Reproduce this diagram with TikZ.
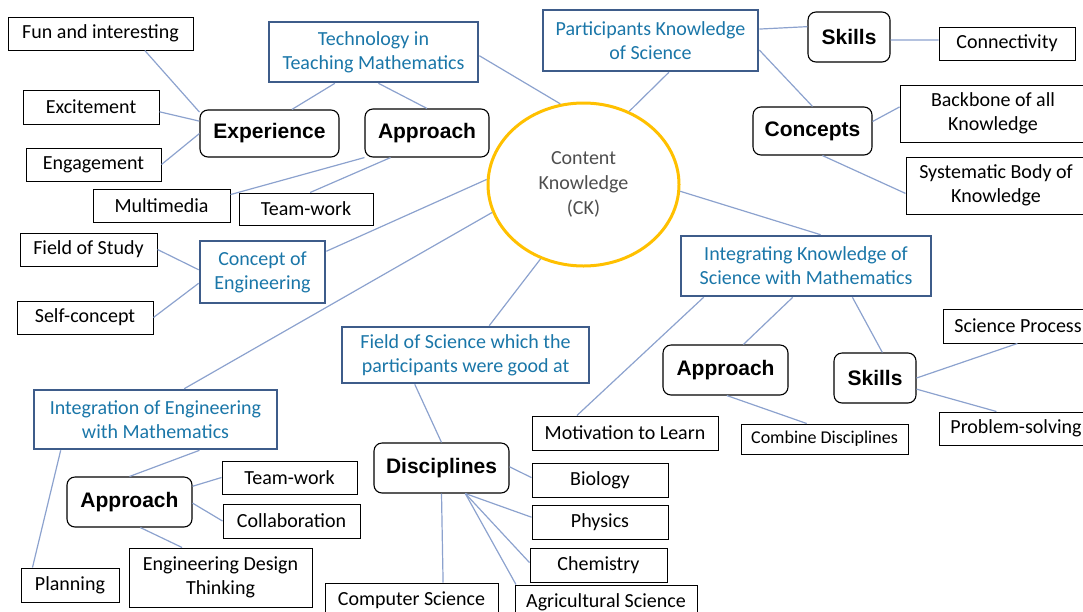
\documentclass[tikz,border=0pt]{standalone}
\usepackage{fontspec}
\setmainfont{Carlito}
\newfontfamily\headsans{Liberation Sans}
\usetikzlibrary{shapes.geometric}
\definecolor{linkblue}{RGB}{140,162,206}
\definecolor{topicborder}{RGB}{62,92,138}
\definecolor{topictext}{RGB}{26,118,168}
\definecolor{ckgold}{RGB}{255,192,0}
\definecolor{cktext}{RGB}{78,78,78}
\tikzset{
    leaf/.style = {draw=black, line width=1pt, rectangle, inner sep=0pt, align=center,
                   font=\fontsize{20}{24}\selectfont},
    head/.style = {draw=black, line width=1.1pt, rectangle, rounded corners=8pt, inner sep=0pt,
                   font=\headsans\bfseries\fontsize{21}{25}\selectfont},
    topic/.style = {draw=topicborder, line width=2.6pt, rectangle, inner sep=0pt, align=center,
                    text=topictext, font=\fontsize{20}{24}\selectfont},
    core/.style = {draw=ckgold, line width=3pt, ellipse, inner sep=0pt, align=center,
                   text=cktext, font=\fontsize{20}{25}\selectfont},
    link/.style = {draw=linkblue, line width=1.2pt}
}

\begin{document}
\begin{tikzpicture}[x=1pt, y=-1pt]
    \useasboundingbox (0,0) rectangle (1083,611);
    \clip (0,0) rectangle (1083,611);
    % Nodos
    \node [core, minimum width=191pt, minimum height=163pt] (ck) at (583.5,184.5) {Content\\Knowledge\\(CK)};

    \node [topic, minimum width=209pt, minimum height=60pt] (tech) at (373.5,52) {Technology in\\Teaching Mathematics};
    \node [head, minimum width=139pt, minimum height=47pt] (exp) at (269.5,133.5) {Experience};
    \node [head, minimum width=124pt, minimum height=48pt] (appT) at (427,133) {Approach};
    \node [leaf, minimum width=185pt, minimum height=33pt] (fun) at (100.5,33.5) {Fun and interesting};
    \node [leaf, minimum width=136pt, minimum height=34pt] (excite) at (91,107) {Excitement};
    \node [leaf, minimum width=135pt, minimum height=33pt] (engage) at (93.5,164.5) {Engagement};
    \node [leaf, minimum width=137pt, minimum height=33pt] (multi) at (161.5,205.5) {Multimedia};
    \node [leaf, minimum width=134pt, minimum height=32pt] (teamT) at (306,209) {Team-work};

    \node [topic, minimum width=215pt, minimum height=61pt] (part) at (650.5,40.5) {Participants Knowledge\\of Science};
    \node [head, minimum width=82pt, minimum height=50pt] (skillT) at (849,37) {Skills};
    \node [leaf, minimum width=136pt, minimum height=33pt] (conn) at (1007,43.5) {Connectivity};
    \node [head, minimum width=119pt, minimum height=48pt] (concepts) at (812.5,131) {Concepts};
    \node [leaf, minimum width=186pt, minimum height=57pt] (backbone) at (993,113.5) {Backbone of all\\Knowledge};
    \node [leaf, minimum width=180pt, minimum height=57pt] (system) at (996,185.5) {Systematic Body of\\Knowledge};

    \node [topic, minimum width=125pt, minimum height=62pt] (conceptE) at (262.5,272) {Concept of\\Engineering};
    \node [leaf, minimum width=137pt, minimum height=33pt] (fstudy) at (88.5,249.5) {Field of Study};
    \node [leaf, minimum width=136pt, minimum height=33pt] (self) at (85,317.5) {Self-concept};

    \node [topic, minimum width=250pt, minimum height=60pt] (integK) at (806,266) {Integrating Knowledge of\\Science with Mathematics};
    \node [head, minimum width=125pt, minimum height=50pt] (appR) at (725.5,370) {Approach};
    \node [head, minimum width=82pt, minimum height=50pt] (skillR) at (875,378) {Skills};
    \node [leaf, minimum width=186pt, minimum height=34pt] (motiv) at (625,433) {Motivation to Learn};
    \node [leaf, minimum width=167pt, minimum height=30pt, font=\fontsize{18}{22}\selectfont] (combine) at (824.5,439) {Combine Disciplines};
    \node [leaf, minimum width=150pt, minimum height=34pt] (sproc) at (1018,326) {Science Process};
    \node [leaf, minimum width=154pt, minimum height=33pt] (prob) at (1016,428.5) {Problem-solving};

    \node [topic, minimum width=247pt, minimum height=56pt] (fsci) at (465.5,355) {Field of Science which the\\participants were good at};
    \node [head, minimum width=135pt, minimum height=50pt] (disc) at (441.5,468) {Disciplines};
    \node [leaf, minimum width=136pt, minimum height=34pt] (bio) at (600,480) {Biology};
    \node [leaf, minimum width=136pt, minimum height=34pt] (phys) at (600,522) {Physics};
    \node [leaf, minimum width=137pt, minimum height=34pt] (chem) at (598.5,565) {Chemistry};
    \node [leaf, minimum width=173pt, minimum height=34pt] (comp) at (411.5,600) {Computer Science};
    \node [leaf, minimum width=182pt, minimum height=34pt] (agri) at (606,602) {Agricultural Science};

    \node [topic, minimum width=243pt, minimum height=59pt] (integE) at (155.5,419.5) {Integration of Engineering\\with Mathematics};
    \node [head, minimum width=125pt, minimum height=50pt] (appL) at (129.5,502) {Approach};
    \node [leaf, minimum width=135pt, minimum height=33pt] (teamL) at (289.5,477.5) {Team-work};
    \node [leaf, minimum width=137pt, minimum height=34pt] (collab) at (291.5,521) {Collaboration};
    \node [leaf, minimum width=98pt, minimum height=34pt] (plan) at (70,585) {Planning};
    \node [leaf, minimum width=183pt, minimum height=59pt] (edt) at (220.5,577.5) {Engineering Design\\Thinking};

    % Conexiones
    \draw [link] (fun.-21) -- (exp.163);
    \draw [link] (excite.-4) -- (exp.170);
    \draw [link] (engage.east) -- (exp.180);
    \draw [link] (tech.-141) -- (exp.47);
    \draw [link] (tech.-81) -- (appT.north);
    \draw [link] (tech.-2) -- (ck.106);
    \draw [link] (appT.south west) -- (multi.9);
    \draw [link] (appT.214) -- (teamT.76);

    \draw [link] (part.-60) -- (ck.58);
    \draw [link] (part.6) -- (skillT.166);
    \draw [link] (part.-5) -- (concepts.north);
    \draw [link] (skillT.-4) -- (conn.177);
    \draw [link] (concepts.9) -- (backbone.176);
    \draw [link] (concepts.-68) -- (system.185);

    \draw [link] (ck.-4) -- (integK.65);
    \draw [link] (ck.177) -- (conceptE.18);
    \draw [link] (ck.197) -- (integE.47);
    \draw [link] (ck.240) -- (fsci.51);
    \draw [link] (fstudy.east) -- (conceptE.178);
    \draw [link] (self.east) -- (conceptE.190);

    \draw [link] (integK.197) -- (motiv.160);
    \draw [link] (integK.247) -- (appR.55);
    \draw [link] (integK.-34) -- (skillR.74);
    \draw [link] (appR.-87) -- (combine.139);
    \draw [link] (skillR.east) -- (sproc.-92);
    \draw [link] (skillR.-15) -- (prob.139);

    \draw [link] (fsci.210) -- (disc.north);
    \draw [link] (disc.1) -- (bio.178);
    \draw [link] (disc.-47) -- (phys.176);
    \draw [link] (disc.-47) -- (chem.178);
    \draw [link] (disc.-47) -- (agri.169);
    \draw [link] (disc.south) -- (comp.29);

    \draw [link] (integE.-35) -- (appL.north);
    \draw [link] (integE.198) -- (plan.155);
    \draw [link] (appL.14) -- (teamL.west);
    \draw [link] (appL.-1) -- (collab.west);
    \draw [link] (appL.-67) -- (edt.142);
\end{tikzpicture}
\end{document}
